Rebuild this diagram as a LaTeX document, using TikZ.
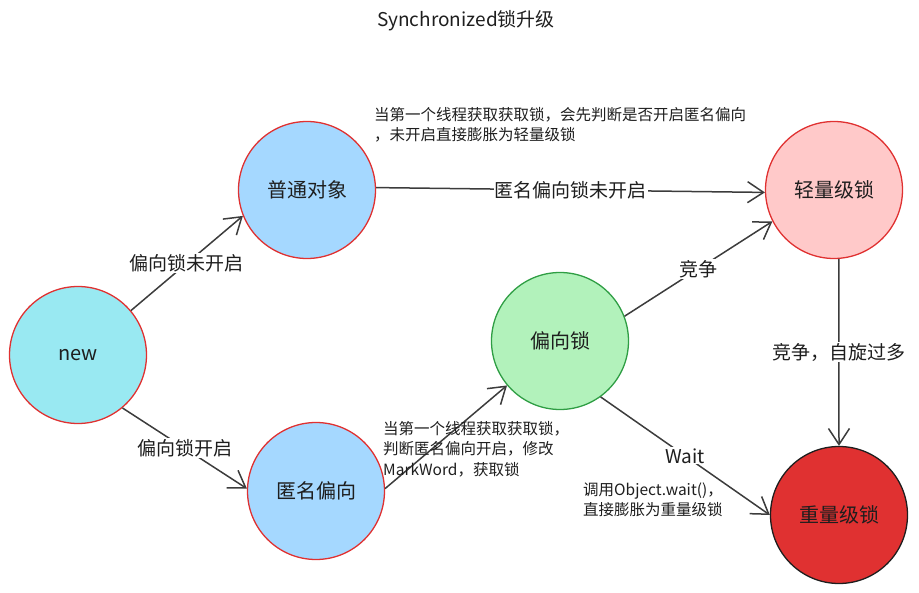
\documentclass[tikz,border=0pt]{standalone}
\usepackage{fontspec}
\setmainfont{Noto Sans CJK SC}
\usetikzlibrary{arrows.meta}

\definecolor{inkgray}{HTML}{1E1E1E}
\definecolor{arrowgray}{HTML}{3C3C3C}
\definecolor{lockred}{HTML}{E03131}
\definecolor{lockgreen}{HTML}{2F9E44}
\definecolor{newcyan}{HTML}{99E9F2}
\definecolor{objblue}{HTML}{A5D8FF}
\definecolor{biasgreen}{HTML}{B2F2BB}
\definecolor{lightpink}{HTML}{FFC9C9}

\tikzset{
  state/.style={circle, draw=lockred, line width=1.3pt, minimum size=137pt, inner sep=0pt,
    text=inkgray, font=\fontsize{20}{24}\selectfont},
  conn/.style={draw=arrowgray, line width=1.5pt, -{Straight Barb[length=16pt,width=21pt]}},
  lbl/.style={fill=white, inner sep=1pt, text=inkgray, font=\fontsize{19}{23}\selectfont},
  note/.style={anchor=west, inner sep=0pt, align=left, text=inkgray, font=\fontsize{15.5}{20.5}\selectfont},
}

\begin{document}
\begin{tikzpicture}[x=1pt,y=-1pt]
    \useasboundingbox (0,0) rectangle (919,593);
    \node[text=inkgray, font=\fontsize{19}{23}\selectfont] (title) at (466,21) {Synchronized锁升级};
    % states
    \node[state, fill=newcyan] (new) at (78,355) {new};
    \node[state, fill=objblue] (plain) at (307,190) {普通对象};
    \node[state, fill=objblue] (anon) at (316,491) {匿名偏向};
    \node[state, fill=biasgreen, draw=lockgreen] (biased) at (560,341) {偏向锁};
    \node[state, fill=lightpink] (light) at (834,190) {轻量级锁};
    \node[state, fill=lockred, draw=inkgray] (heavy) at (839,515) {重量级锁};
    % transitions
    \draw[conn] (new.40) -- (plain.202) node[lbl, pos=0.5] (l1) {偏向锁未开启};
    \draw[conn] (new.-50) -- (anon.178) node[lbl, pos=0.5] (l2) {偏向锁开启};
    \draw[conn] (plain.2) -- (light.182) node[lbl, pos=0.5] (l3) {匿名偏向锁未开启};
    \draw[conn] (anon.2) -- (biased.220);
    \draw[conn] (biased.21) -- (light.207) node[lbl, pos=0.5] (l4) {竞争};
    \draw[conn] (light.-86) -- (heavy.north) node[lbl, pos=0.5] (l5) {竞争，自旋过多};
    \draw[conn] (biased.-54) -- (heavy.180) node[lbl, pos=0.5] (l6) {Wait};
    % notes
    \node[note] (noteA) at (374,125) {当第一个线程获取获取锁，会先判断是否开启匿名偏向\\，未开启直接膨胀为轻量级锁};
    \node[note] (noteB) at (383,449) {当第一个线程获取获取锁，\\判断匿名偏向开启，修改\\MarkWord，获取锁};
    \node[note] (noteC) at (583,500) {调用Object.wait()，\\直接膨胀为重量级锁};
\end{tikzpicture}
\end{document}
